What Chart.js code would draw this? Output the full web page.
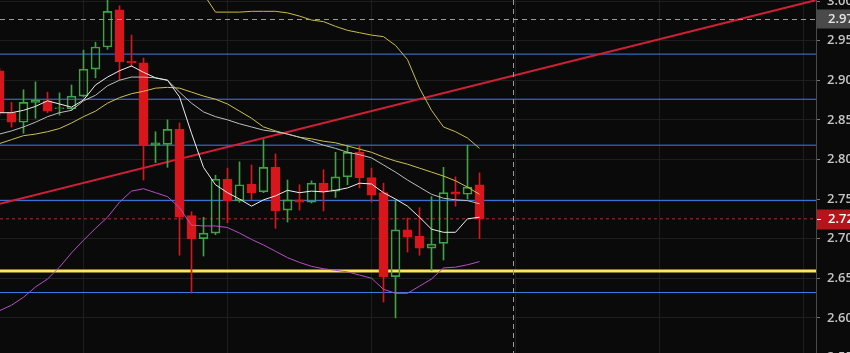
<!DOCTYPE html>
<html>
<head>
<meta charset="utf-8">
<script src="https://cdn.jsdelivr.net/npm/chart.js@4.4.1/dist/chart.umd.min.js"></script>
<style>
  html, body { margin: 0; padding: 0; background: #0a0a0a; }
  canvas { display: block; }
</style>
</head>
<body>
<canvas id="priceChart" width="850" height="353"></canvas>
<script>
// candles, one per bar index (0 = leftmost, half cut off)
const opens  = [2.912, 2.859, 2.847, 2.872, 2.874, 2.864, 2.864, 2.880, 2.914, 2.942, 2.989, 2.924, 2.922, 2.818, 2.819, 2.838, 2.729, 2.700, 2.707, 2.775, 2.748, 2.769, 2.759, 2.790, 2.736, 2.749, 2.746, 2.770, 2.760, 2.778, 2.809, 2.777, 2.758, 2.652, 2.711, 2.703, 2.688, 2.694, 2.759, 2.756, 2.768];
const highs  = [2.915, 2.872, 2.888, 2.898, 2.885, 2.884, 2.894, 2.938, 2.948, 3.008, 2.994, 2.957, 2.928, 2.835, 2.850, 2.846, 2.734, 2.727, 2.780, 2.789, 2.797, 2.793, 2.825, 2.807, 2.774, 2.768, 2.773, 2.787, 2.809, 2.818, 2.818, 2.789, 2.770, 2.749, 2.726, 2.739, 2.753, 2.790, 2.778, 2.818, 2.783];
const lows   = [2.856, 2.841, 2.833, 2.852, 2.859, 2.856, 2.862, 2.879, 2.903, 2.939, 2.900, 2.917, 2.774, 2.796, 2.790, 2.679, 2.631, 2.678, 2.705, 2.720, 2.746, 2.749, 2.758, 2.713, 2.721, 2.736, 2.745, 2.735, 2.752, 2.768, 2.764, 2.746, 2.620, 2.600, 2.683, 2.679, 2.660, 2.673, 2.741, 2.750, 2.700];
const closes = [2.859, 2.847, 2.872, 2.875, 2.861, 2.865, 2.880, 2.914, 2.942, 2.987, 2.923, 2.922, 2.818, 2.821, 2.838, 2.727, 2.700, 2.707, 2.775, 2.748, 2.768, 2.758, 2.790, 2.735, 2.749, 2.746, 2.770, 2.759, 2.778, 2.809, 2.777, 2.755, 2.652, 2.711, 2.702, 2.688, 2.693, 2.758, 2.756, 2.765, 2.725];

// indicator lines
const maFast = [2.859, 2.859, 2.862, 2.867, 2.874, 2.870, 2.866, 2.875, 2.894, 2.904, 2.912, 2.918, 2.910, 2.903, 2.900, 2.879, 2.833, 2.790, 2.768, 2.758, 2.750, 2.741, 2.749, 2.754, 2.761, 2.758, 2.760, 2.759, 2.761, 2.764, 2.770, 2.769, 2.758, 2.750, 2.741, 2.727, 2.712, 2.708, 2.708, 2.725, 2.727];
const maSlow = [2.832, 2.836, 2.841, 2.847, 2.854, 2.859, 2.862, 2.874, 2.881, 2.893, 2.900, 2.904, 2.904, 2.903, 2.900, 2.885, 2.871, 2.860, 2.854, 2.850, 2.845, 2.841, 2.837, 2.835, 2.832, 2.828, 2.823, 2.818, 2.814, 2.809, 2.806, 2.802, 2.793, 2.784, 2.774, 2.765, 2.756, 2.751, 2.749, 2.748, 2.744];
const maMid  = [2.820, 2.825, 2.830, 2.832, 2.835, 2.839, 2.846, 2.854, 2.861, 2.871, 2.878, 2.883, 2.886, 2.890, 2.891, 2.890, 2.885, 2.880, 2.876, 2.870, 2.861, 2.852, 2.841, 2.836, 2.832, 2.828, 2.826, 2.823, 2.821, 2.817, 2.813, 2.809, 2.803, 2.798, 2.794, 2.789, 2.784, 2.779, 2.773, 2.765, 2.756];
const bandUpper = [null, null, null, null, null, null, null, null, null, null, null, null, null, null, null, null, 3.033, 3.009, 2.986, 2.986, 2.986, 2.987, 2.987, 2.987, 2.985, 2.981, 2.976, 2.974, 2.968, 2.963, 2.960, 2.957, 2.955, 2.944, 2.926, 2.890, 2.862, 2.841, 2.835, 2.827, 2.814];
const bandLower = [2.609, 2.616, 2.626, 2.639, 2.649, 2.664, 2.682, 2.698, 2.713, 2.727, 2.746, 2.760, 2.763, 2.758, 2.753, 2.739, 2.717, 2.716, 2.716, 2.714, 2.707, 2.699, 2.692, 2.684, 2.676, 2.670, 2.665, 2.662, 2.660, 2.658, 2.654, 2.650, 2.636, 2.631, 2.631, 2.640, 2.649, 2.663, 2.664, 2.667, 2.671];

// drawings
const blueLevels = [2.933, 2.876, 2.818, 2.748, 2.632];
const supportLevel = 2.659;
const trendIdx = [0, 68];
const trendPrice = [2.744, 3.001];
const crossIdx = 42.8;
const crossPrice = 2.977;

// axes
const yTicks = [2.55, 2.60, 2.65, 2.70, 2.75, 2.80, 2.85, 2.90, 2.95, 3.00];
const xGrid = [1, 13, 25, 37, 49, 61];
const xMin = 1 / 24, xMax = 68 + 1 / 24;
const yMin = 2.5556, yMax = 3.0013;

const UP = "#43a047";
const DOWN = "#d9161c";
const isUp = closes.map((c, i) => c >= opens[i]);

const bodies = opens.map((o, i) => ({ x: i, y: [o, closes[i]] }));
const wickTop = opens.map((o, i) => ({ x: i, y: [Math.max(o, closes[i]), highs[i]] }));
const wickBottom = opens.map((o, i) => ({ x: i, y: [lows[i], Math.min(o, closes[i])] }));
const pts = (arr) => arr.map((v, i) => ({ x: i, y: v }));
const flat = (v) => [{ x: xMin, y: v }, { x: xMax, y: v }];

const candleColor = (ctx) => (isUp[ctx.dataIndex] ? UP : DOWN);

const trunc2 = (v) => (Math.floor(v * 100 + 1e-6) / 100).toFixed(2);

const levelSets = blueLevels.map((v) => ({
  type: "line",
  data: flat(v),
  borderColor: "#3d7eea",
  borderWidth: 1,
  pointRadius: 0,
  order: 7,
}));

const chartPlugins = {
  id: "drawings",
  beforeDraw(chart) {
    const { ctx, width, height } = chart;
    ctx.save();
    ctx.fillStyle = "#0a0a0a";
    ctx.fillRect(0, 0, width, height);
    ctx.restore();
  },
  afterDraw(chart) {
    const { ctx, chartArea, width } = chart;
    const x = chart.scales.x, y = chart.scales.y;
    ctx.save();
    // crosshair
    ctx.strokeStyle = "#9a9a9a";
    ctx.lineWidth = 1;
    ctx.setLineDash([5, 4]);
    const cy = Math.round(y.getPixelForValue(crossPrice)) + 0.5;
    ctx.beginPath();
    ctx.moveTo(chartArea.left, cy);
    ctx.lineTo(chartArea.right, cy);
    ctx.stroke();
    const cx = Math.round(x.getPixelForValue(crossIdx)) + 0.5;
    ctx.beginPath();
    ctx.moveTo(cx, chartArea.top);
    ctx.lineTo(cx, chartArea.bottom);
    ctx.stroke();
    ctx.setLineDash([]);

    ctx.font = "600 13px 'Open Sans', sans-serif";
    ctx.textBaseline = "middle";
    ctx.textAlign = "left";
    // crosshair price box
    ctx.fillStyle = "#4a4a4a";
    ctx.fillRect(chartArea.right + 1, cy - 10, width - chartArea.right, 19);
    ctx.fillStyle = "#e4e4e4";
    ctx.fillText(trunc2(crossPrice), chartArea.right + 12, cy);
    // last price box
    const last = closes[closes.length - 1];
    const ly = Math.round(y.getPixelForValue(last)) + 0.5;
    ctx.fillStyle = "#b5141a";
    ctx.fillRect(chartArea.right + 1, ly - 10, width - chartArea.right, 20);
    ctx.strokeStyle = "#ffffff";
    ctx.beginPath();
    ctx.moveTo(chartArea.right + 1, ly);
    ctx.lineTo(chartArea.right + 5, ly);
    ctx.stroke();
    ctx.fillStyle = "#ffffff";
    ctx.fillText(trunc2(last), chartArea.right + 12, ly);
    ctx.restore();
  },
};

Chart.defaults.font.family = "'Open Sans', sans-serif";

new Chart(document.getElementById("priceChart"), {
  type: "bar",
  data: {
    datasets: [
      { type: "line", data: pts(maFast), borderColor: "#ededed", borderWidth: 1, pointRadius: 0, order: 1 },
      { type: "line", data: pts(maSlow), borderColor: "#bcbcbc", borderWidth: 1, pointRadius: 0, order: 1 },
      { type: "line", data: pts(maMid), borderColor: "#cbc24e", borderWidth: 1, pointRadius: 0, order: 1 },
      { type: "line", data: pts(bandUpper), borderColor: "#c9bb4a", borderWidth: 1, pointRadius: 0, order: 1 },
      { type: "line", data: pts(bandLower), borderColor: "#b54ec4", borderWidth: 1, pointRadius: 0, order: 1 },
      {
        data: bodies,
        backgroundColor: (ctx) => (isUp[ctx.dataIndex] ? "rgba(0,0,0,0)" : DOWN),
        borderColor: candleColor,
        borderWidth: 1,
        borderSkipped: false,
        barThickness: 9,
        grouped: false,
        order: 3,
      },
      { data: wickTop, backgroundColor: candleColor, borderWidth: 0, barThickness: 1, grouped: false, order: 4 },
      { data: wickBottom, backgroundColor: candleColor, borderWidth: 0, barThickness: 1, grouped: false, order: 4 },
      {
        type: "line",
        data: trendIdx.map((v, i) => ({ x: v, y: trendPrice[i] })),
        borderColor: "#d21f38",
        borderWidth: 2,
        pointRadius: 0,
        order: 6,
      },
      {
        type: "line",
        data: flat(closes[closes.length - 1]),
        borderColor: "#c3262c",
        borderWidth: 1,
        borderDash: [3, 3],
        pointRadius: 0,
        order: 7,
      },
      { type: "line", data: flat(supportLevel), borderColor: "#ffe45c", borderWidth: 3, pointRadius: 0, order: 7 },
      ...levelSets,
    ],
  },
  options: {
    responsive: false,
    animation: false,
    devicePixelRatio: 1,
    layout: { padding: 0, autoPadding: false },
    plugins: { legend: { display: false }, tooltip: { enabled: false } },
    scales: {
      x: {
        type: "linear",
        min: xMin,
        max: xMax,
        offset: false,
        afterBuildTicks: (s) => { s.ticks = xGrid.map((v) => ({ value: v })); },
        afterFit: (s) => { s.height = 0; },
        ticks: { display: false },
        grid: { color: "#1e1e1e", drawTicks: false },
        border: { display: false },
      },
      y: {
        position: "right",
        min: yMin,
        max: yMax,
        afterBuildTicks: (s) => { s.ticks = yTicks.map((v) => ({ value: v })); },
        afterFit: (s) => { s.width = 34; s.paddingTop = 0; s.paddingBottom = 0; },
        ticks: {
          color: "#c4c4c4",
          padding: 7,
          font: { size: 13, weight: "600" },
          callback: (v) => v.toFixed(2),
        },
        grid: { color: "#1e1e1e", tickColor: "#777", tickLength: 4 },
        border: { color: "#4a4a4a" },
      },
    },
  },
  plugins: [chartPlugins],
});
</script>
</body>
</html>
